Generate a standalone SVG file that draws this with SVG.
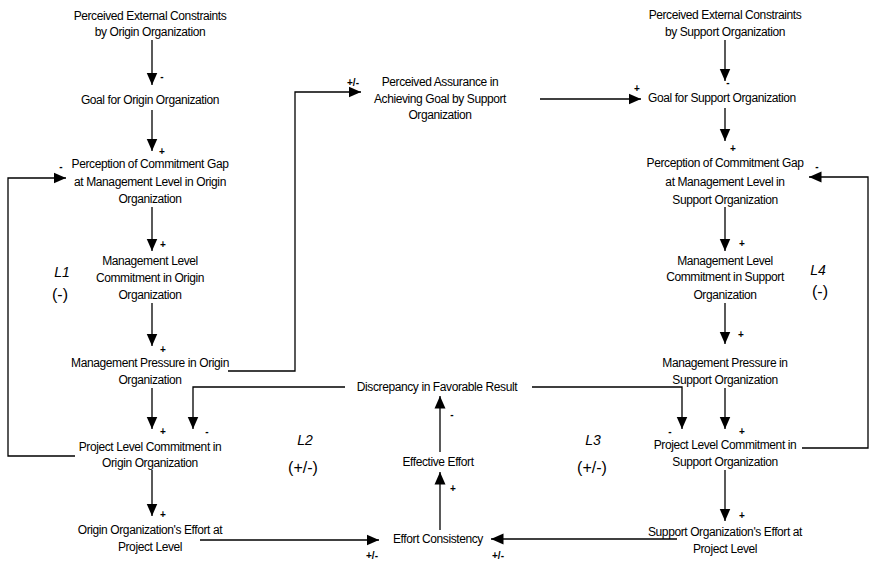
<svg xmlns="http://www.w3.org/2000/svg" width="871" height="562" viewBox="0 0 871 562">
  <defs>
    <marker id="arrow" markerUnits="userSpaceOnUse" markerWidth="14" markerHeight="12" viewBox="0 0 14 12" refX="12.5" refY="6" orient="auto">
      <path d="M0,0.5 L12.5,6 L0,11.5 Z" fill="#000"/>
    </marker>
    <style>
      text { font-family: "Liberation Sans", Arial, sans-serif; fill: #000; }
      .lbl { font-size: 12px; letter-spacing: -0.4px; text-anchor: middle; }
      .lbl-start { font-size: 12px; letter-spacing: -0.4px; text-anchor: start; }
      .sign { font-size: 10px; font-weight: bold; text-anchor: middle; }
      .loop { font-size: 14px; font-style: italic; text-anchor: middle; }
      .pol { font-size: 16px; text-anchor: middle; }
      .link { fill: none; stroke: #000; stroke-width: 1.3; marker-end: url(#arrow); }
    </style>
  </defs>
  <rect width="871" height="562" fill="#fff"/>

  <!-- Origin organization column -->
  <g id="origin-constraints">
    <text class="lbl" x="150" y="20">Perceived External Constraints</text>
    <text class="lbl" x="150" y="36">by Origin Organization</text>
  </g>
  <g id="origin-goal">
    <text class="lbl" x="150" y="104">Goal for Origin Organization</text>
  </g>
  <g id="origin-gap">
    <text class="lbl" x="150" y="168">Perception of Commitment Gap</text>
    <text class="lbl" x="150" y="186">at Management Level in Origin</text>
    <text class="lbl" x="150" y="203">Organization</text>
  </g>
  <g id="origin-mgmt-commitment">
    <text class="lbl" x="150" y="265">Management  Level</text>
    <text class="lbl" x="150" y="282">Commitment  in Origin</text>
    <text class="lbl" x="150" y="299">Organization</text>
  </g>
  <g id="origin-mgmt-pressure">
    <text class="lbl" x="150" y="367">Management Pressure in Origin</text>
    <text class="lbl" x="150" y="384">Organization</text>
  </g>
  <g id="origin-project-commitment">
    <text class="lbl" x="150" y="451">Project Level Commitment in</text>
    <text class="lbl" x="150" y="467">Origin Organization</text>
  </g>
  <g id="origin-effort">
    <text class="lbl" x="150" y="534">Origin Organization's Effort at</text>
    <text class="lbl" x="150" y="551">Project Level</text>
  </g>

  <!-- Shared middle nodes -->
  <g id="assurance">
    <text class="lbl" x="440" y="86">Perceived Assurance in</text>
    <text class="lbl" x="440" y="103">Achieving Goal by Support</text>
    <text class="lbl" x="440" y="119">Organization</text>
  </g>
  <g id="discrepancy">
    <text class="lbl" x="437" y="391">Discrepancy in Favorable Result</text>
  </g>
  <g id="effective-effort">
    <text class="lbl" x="438" y="466">Effective Effort</text>
  </g>
  <g id="effort-consistency">
    <text class="lbl" x="438" y="543">Effort Consistency</text>
  </g>

  <!-- Support organization column -->
  <g id="support-constraints">
    <text class="lbl" x="725" y="19">Perceived External Constraints</text>
    <text class="lbl" x="725" y="36">by Support  Organization</text>
  </g>
  <g id="support-goal">
    <text class="lbl-start" x="648" y="102">Goal for Support  Organization</text>
  </g>
  <g id="support-gap">
    <text class="lbl" x="725" y="167">Perception of Commitment Gap</text>
    <text class="lbl" x="725" y="186">at Management Level in</text>
    <text class="lbl" x="725" y="204">Support Organization</text>
  </g>
  <g id="support-mgmt-commitment">
    <text class="lbl" x="725" y="265">Management  Level</text>
    <text class="lbl" x="725" y="281">Commitment  in Support</text>
    <text class="lbl" x="725" y="299">Organization</text>
  </g>
  <g id="support-mgmt-pressure">
    <text class="lbl" x="725" y="367">Management Pressure in</text>
    <text class="lbl" x="725" y="384">Support Organization</text>
  </g>
  <g id="support-project-commitment">
    <text class="lbl" x="725" y="449">Project Level Commitment in</text>
    <text class="lbl" x="725" y="466">Support Organization</text>
  </g>
  <g id="support-effort">
    <text class="lbl" x="725" y="536">Support Organization's Effort at</text>
    <text class="lbl" x="725" y="553">Project Level</text>
  </g>

  <!-- Loop labels -->
  <g id="loop-labels">
    <text class="loop" x="62" y="277">L1</text>
    <text class="pol" x="60" y="300">(-)</text>
    <text class="loop" x="305" y="445">L2</text>
    <text class="pol" x="303" y="473">(+/-)</text>
    <text class="loop" x="593" y="445">L3</text>
    <text class="pol" x="592" y="473">(+/-)</text>
    <text class="loop" x="818" y="275">L4</text>
    <text class="pol" x="820" y="297">(-)</text>
  </g>

  <!-- Causal links -->
  <g id="connectors">
    <!-- origin column -->
    <path class="link" d="M152,40 V85"/>
    <path class="link" d="M152,110 V151"/>
    <path class="link" d="M152,207 V251"/>
    <path class="link" d="M152,303 V346"/>
    <path class="link" d="M152,388 V429"/>
    <path class="link" d="M152,470 V516"/>
    <!-- L1 feedback -->
    <path class="link" d="M75,456 H8 V178 H66"/>
    <!-- pressure to assurance -->
    <path class="link" d="M228,371 H295 V92 H361"/>
    <!-- assurance to support goal -->
    <path class="link" d="M540,99 H641"/>
    <!-- discrepancy to project commitments -->
    <path class="link" d="M345,387 H193 V429"/>
    <path class="link" d="M532,387 H682 V429"/>
    <!-- efforts to consistency -->
    <path class="link" d="M200,540 H379"/>
    <path class="link" d="M677,539 H491"/>
    <!-- middle chain -->
    <path class="link" d="M440,530 V472"/>
    <path class="link" d="M440,452 V396"/>
    <!-- support column -->
    <path class="link" d="M725,40 V81"/>
    <path class="link" d="M725,108 V141"/>
    <path class="link" d="M725,207 V251"/>
    <path class="link" d="M725,303 V344"/>
    <path class="link" d="M725,388 V429"/>
    <path class="link" d="M725,470 V521"/>
    <!-- L4 feedback -->
    <path class="link" d="M802,448 H868 V177 H809"/>

    <!-- link polarities -->
    <text class="sign" x="162" y="80">-</text>
    <text class="sign" x="162" y="155">+</text>
    <text class="sign" x="163" y="248">+</text>
    <text class="sign" x="163" y="353">+</text>
    <text class="sign" x="163" y="435">+</text>
    <text class="sign" x="163" y="518">+</text>
    <text class="sign" x="61" y="170">-</text>
    <text class="sign" x="353" y="86">+/-</text>
    <text class="sign" x="637" y="92">+</text>
    <text class="sign" x="207" y="435">-</text>
    <text class="sign" x="670" y="435">-</text>
    <text class="sign" x="372" y="559">+/-</text>
    <text class="sign" x="498" y="559">+/-</text>
    <text class="sign" x="453" y="492">+</text>
    <text class="sign" x="452" y="418">-</text>
    <text class="sign" x="728" y="86">-</text>
    <text class="sign" x="733" y="152">+</text>
    <text class="sign" x="742" y="247">+</text>
    <text class="sign" x="741" y="338">+</text>
    <text class="sign" x="742" y="435">+</text>
    <text class="sign" x="742" y="519">+</text>
    <text class="sign" x="817" y="170">-</text>
  </g>
</svg>
